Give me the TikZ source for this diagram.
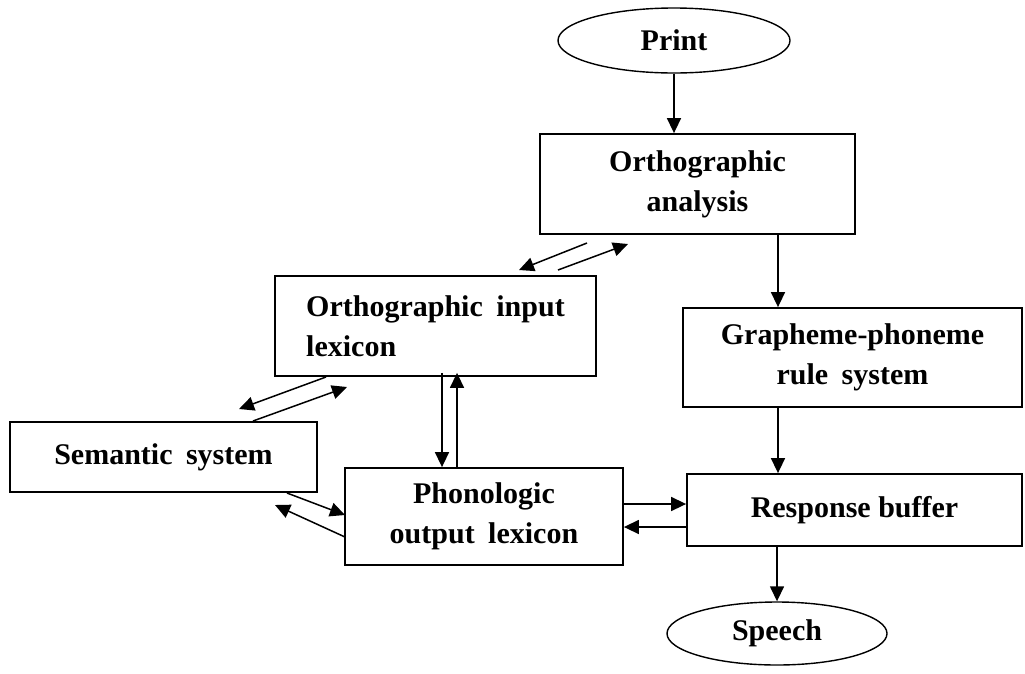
\documentclass[tikz,border=0pt]{standalone}
\usepackage{fontspec}
\setmainfont{Liberation Serif}
\usetikzlibrary{shapes.geometric,arrows.meta}
\newcommand{\wsp}{\hspace{0.45em}}
\begin{document}
\begin{tikzpicture}[x=1pt,y=-1pt,
  every node/.style={font=\fontsize{30}{40}\selectfont\bfseries, inner sep=0pt},
  box/.style={draw, line width=1.8pt, rectangle, align=center},
  oval/.style={draw, line width=1.4pt, ellipse},
  arr/.style={line width=1.5pt, -{Triangle[length=15pt,width=14pt]}}]
\useasboundingbox (0,0) rectangle (1025,673);
\node[oval, minimum width=232pt, minimum height=65pt] (print) at (674,40.5) {Print};
\node[box, minimum width=315pt, minimum height=100pt] (oa) at (697.5,184) {Orthographic\\analysis};
\node[box, minimum width=321pt, minimum height=100pt, align=left] (il) at (435.5,326) {Orthographic\wsp input\\lexicon};
\node[box, minimum width=339pt, minimum height=99pt] (gp) at (852.5,357.5) {Grapheme-phoneme\\rule\wsp system};
\node[box, minimum width=307pt, minimum height=70pt] (ss) at (163.5,457) {Semantic\wsp system};
\node[box, minimum width=278pt, minimum height=97pt] (po) at (484,516.5) {Phonologic\\output\wsp lexicon};
\node[box, minimum width=335pt, minimum height=72pt] (rb) at (854.5,510) {Response buffer};
\node[oval, minimum width=220pt, minimum height=63pt] (sp) at (777,633.5) {Speech};
% vertical helper coordinates
\coordinate (vx1) at (778,0);
\coordinate (vx2) at (442,0);
\coordinate (vx3) at (457,0);
\coordinate (hy1) at (0,504);
\coordinate (hy2) at (0,527);
% diagonal free ends
\coordinate (d1s) at (587,243); \coordinate (d1e) at (519,270);
\coordinate (d2s) at (558,270); \coordinate (d2e) at (628,244);
\coordinate (d3s) at (326,377); \coordinate (d3e) at (239,409);
\coordinate (d4s) at (253,421); \coordinate (d4e) at (347,387);
\coordinate (d5s) at (287,493); \coordinate (d5e) at (345,515);
\coordinate (d6s) at (345,537); \coordinate (d6e) at (275,505);
\draw[arr] (print.south) -- (print.south |- oa.north);
\draw[arr] (vx1 |- oa.south) -- (vx1 |- gp.north);
\draw[arr] (vx1 |- gp.south) -- (vx1 |- rb.north);
\draw[arr] (sp.north |- rb.south) -- (sp.north);
\draw[arr] (d1s) -- (d1e);
\draw[arr] (d2s) -- (d2e);
\draw[arr] (d3s) -- (d3e);
\draw[arr] (d4s) -- (d4e);
\draw[arr] (d5s) -- (d5e);
\draw[arr] (d6s) -- (d6e);
\draw[arr] ([yshift=4pt]vx2 |- il.south) -- (vx2 |- po.north);
\draw[arr] (vx3 |- po.north) -- ([yshift=4pt]vx3 |- il.south);
\draw[arr] (po.east |- hy1) -- (rb.west |- hy1);
\draw[arr] (rb.west |- hy2) -- (po.east |- hy2);
\end{tikzpicture}
\end{document}
